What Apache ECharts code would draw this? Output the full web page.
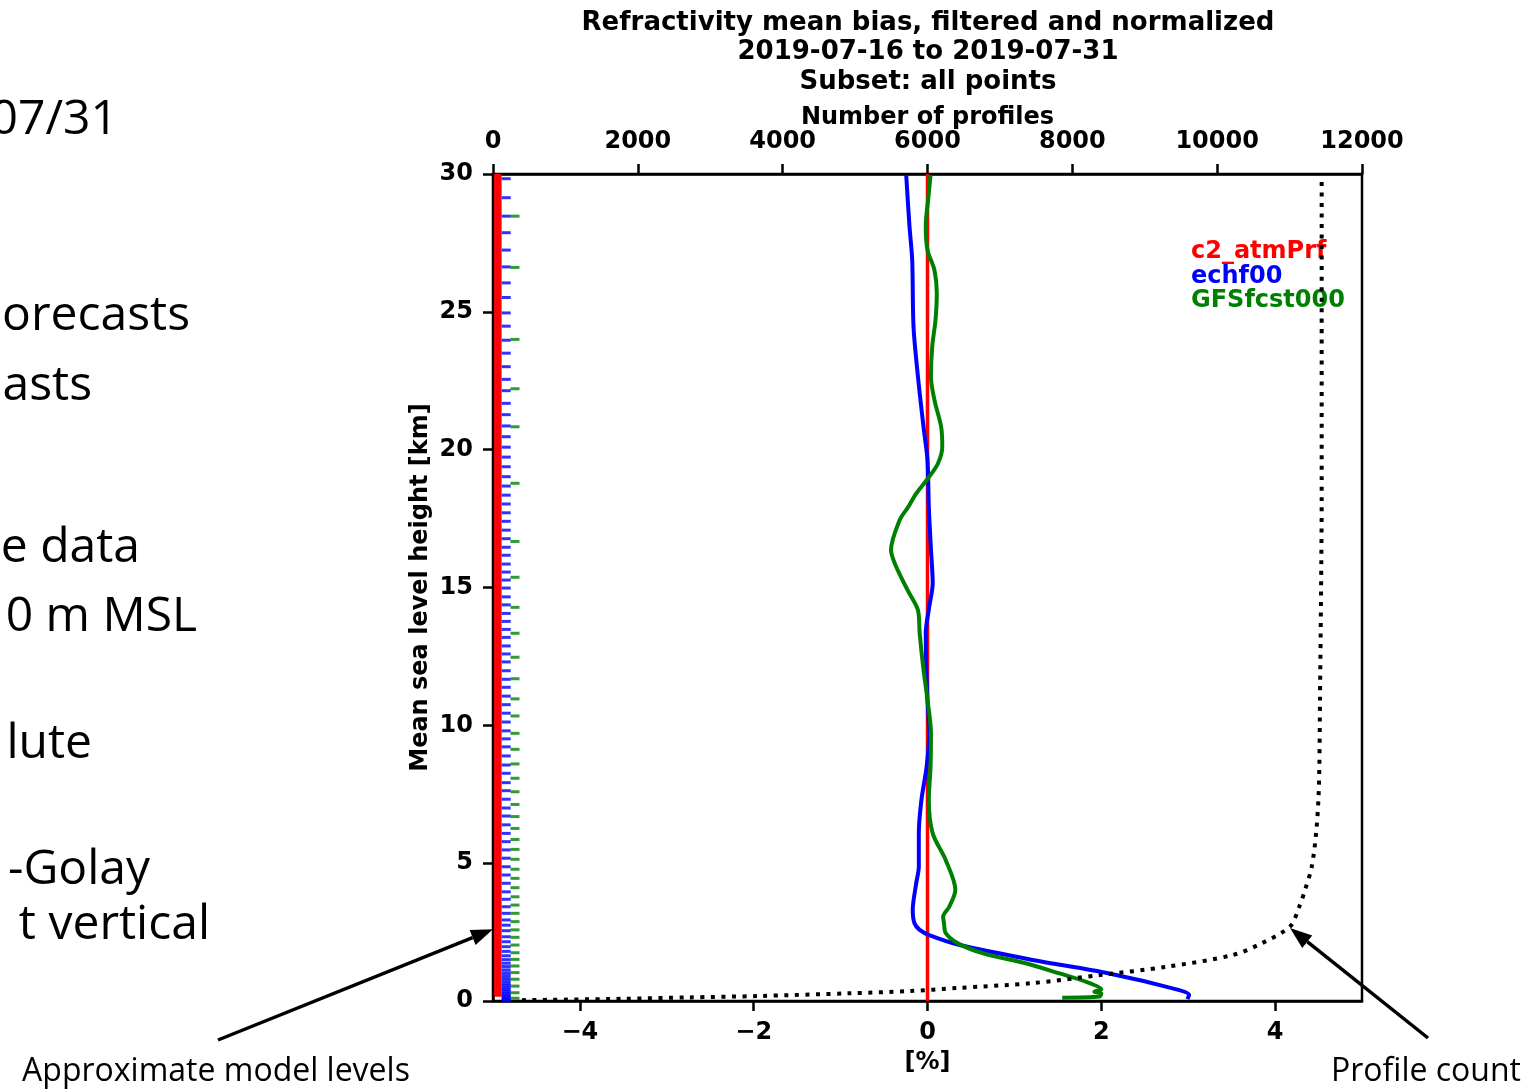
<!DOCTYPE html>
<html lang="en">
<head>
    <meta charset="UTF-8">
    <title>Refractivity mean bias, filtered and normalized</title>
    <script src="https://cdn.jsdelivr.net/npm/echarts@6/dist/echarts.min.js"></script>
    <style>
        html, body { margin: 0; padding: 0; background: #fff; }
        #main { width: 1529px; height: 1089px; }
    </style>
</head>
<body>
<div id="main"></div>
<script type="text/javascript">
    // ---- data ----
    // bias profiles: [bias %, height km]
    var c2AtmPrfBias = [[0, 0], [0, 30]];
    var echf00Bias = [
        [-0.245, 29.96], [-0.207, 28.09], [-0.176, 26.88], [-0.161, 24.46], [-0.11, 22.65],
        [-0.046, 20.83], [0.0, 19.62], [0.015, 17.93], [0.04, 16.36], [0.06, 15.15],
        [0.02, 14.30], [-0.02, 13.34], [-0.015, 12.12], [0.0, 10.92], [0.02, 9.71],
        [-0.01, 8.50], [-0.07, 7.29], [-0.10, 6.08], [-0.10, 4.87], [-0.13, 4.27],
        [-0.17, 3.30], [-0.15, 2.82], [-0.09, 2.58], [0.02, 2.39], [0.37, 2.03],
        [1.21, 1.49], [2.09, 1.00], [2.82, 0.46], [3.01, 0.22], [2.99, 0.07]
    ];
    var gfsBias = [
        [0.035, 29.96], [0.015, 29.3], [-0.02, 28.09], [0.0, 27.24], [0.08, 26.51],
        [0.107, 25.67], [0.092, 24.70], [0.054, 23.73], [0.04, 22.64], [0.08, 21.80],
        [0.157, 20.83], [0.17, 20.10], [0.12, 19.50], [0.02, 19.02], [-0.13, 18.41],
        [-0.22, 17.93], [-0.32, 17.45], [-0.42, 16.36], [-0.36, 15.75], [-0.23, 14.91],
        [-0.11, 14.18], [-0.09, 13.34], [-0.05, 12.12], [0.0, 10.92], [0.04, 9.71],
        [0.035, 8.50], [0.015, 7.29], [0.06, 6.08], [0.21, 5.11], [0.32, 4.03],
        [0.25, 3.42], [0.18, 3.06], [0.19, 2.82], [0.21, 2.46], [0.35, 2.09],
        [0.64, 1.73], [1.13, 1.37], [1.52, 1.00], [1.82, 0.70], [2.0, 0.42],
        [1.92, 0.34], [2.0, 0.28], [1.98, 0.16], [1.55, 0.12]
    ];
    // number of profiles: [count, height km]
    var profileCount = [
        [400, 0.03], [1800, 0.08], [2700, 0.13], [3650, 0.18], [4930, 0.28],
        [5760, 0.36], [6400, 0.47], [7450, 0.65], [8380, 0.94], [9300, 1.24],
        [10220, 1.67], [10620, 2.10], [11006, 2.70], [11130, 3.40], [11214, 4.03],
        [11306, 4.87], [11366, 6.08], [11398, 7.29], [11411, 8.50], [11420, 10.92],
        [11435, 15.0], [11443, 18.17], [11443, 24.0], [11443, 29.9]
    ];
    // approximate model levels (km)
    var c2Levels = [0.15, 30];
    var echfLevels = [
        29.83, 29.14, 28.47, 27.87, 27.24, 26.63, 26.05, 25.52, 24.96, 24.48, 23.97, 23.50,
        23.01, 22.55, 22.14, 21.68, 21.27, 20.86, 20.47, 20.09, 19.73, 19.38, 19.02, 18.68,
        18.35, 18.03, 17.71, 17.40, 17.08, 16.77, 16.46, 16.17, 15.85, 15.56, 15.27, 14.98,
        14.66, 14.37, 14.06, 13.77, 13.48, 13.19, 12.88, 12.59, 12.30, 11.98, 11.67, 11.38,
        11.06, 10.75, 10.44, 10.12, 9.80, 9.51, 9.22, 8.89, 8.56, 8.26, 7.92, 7.63, 7.32,
        7.00, 6.71, 6.39, 6.08, 5.78, 5.48, 5.18, 4.87, 4.57, 4.27, 3.96, 3.69, 3.42, 3.18,
        2.94, 2.75, 2.55, 2.33, 2.15, 1.97, 1.80, 1.64, 1.50, 1.37, 1.25, 1.13, 1.02, 0.92,
        0.82, 0.73, 0.64, 0.56, 0.48, 0.41, 0.34, 0.28, 0.22, 0.17, 0.12, 0.08, 0.04, 0.01
    ];
    var gfsLevels = [
        28.47, 26.61, 24.00, 22.21, 20.83, 18.78, 16.67, 15.37, 14.28, 13.34, 12.47, 11.69,
        10.96, 10.34, 9.71, 9.13, 8.60, 8.08, 7.59, 7.13, 6.69, 6.26, 5.86, 5.50, 5.14,
        4.78, 4.45, 4.11, 3.78, 3.48, 3.18, 2.88, 2.58, 2.31, 2.03, 1.75, 1.51, 1.27, 1.03,
        0.79, 0.54, 0.30, 0.10
    ];
    // where the level markers sit on the bias axis
    var c2LevelX = -4.944, echfLevelX = -4.848, gfsLevelX = -4.747;

    var biasTicks = [-4, -2, 0, 2, 4];
    var titleLines = ['Refractivity mean bias, filtered and normalized', '2019-07-16 to 2019-07-31', 'Subset: all points'];

    // slide text that is cut off at the left edge: [text, right x, middle y]
    var slideText = [
        ['07/31', 118, 120], ['orecasts', 190, 316], ['asts', 92, 386], ['e data', 140, 548],
        ['0 m MSL', 197, 617], ['lute', 92, 744], ['-Golay', 150, 870], ['t vertical', 210, 925]
    ];

    var RED = '#ff0000', BLUE = '#0000ff', GREEN = '#008000';
    var FONT = 'DejaVu Sans';

    var myChart = echarts.init(document.getElementById('main'), null, {renderer: 'canvas'});

    function levelPoints(levels, x) {
        return levels.map(function (h) { return [x, h]; });
    }

    var axisCommon = {
        axisLine: {show: true, onZero: false, lineStyle: {color: '#000', width: 2.5}},
        axisTick: {show: true, length: 10, lineStyle: {color: '#000', width: 2.5}},
        axisLabel: {color: '#000', fontFamily: FONT, fontWeight: 'bold', fontSize: 24, margin: 20},
        splitLine: {show: false},
        nameMoveOverlap: false,
        nameTextStyle: {color: '#000', fontFamily: FONT, fontWeight: 'bold', fontSize: 24}
    };

    var option = {
        animation: false,
        backgroundColor: '#fff',
        title: {
            text: titleLines.join('\n'),
            left: 928,
            top: 8,
            padding: 0,
            textAlign: 'center',
            textStyle: {color: '#000', fontFamily: FONT, fontWeight: 'bold', fontSize: 26, lineHeight: 29.5}
        },
        legend: {
            orient: 'vertical',
            left: 1186,
            top: 240,
            padding: 0,
            itemGap: 0,
            itemWidth: 0,
            itemHeight: 10,
            selectedMode: false,
            textStyle: {fontFamily: FONT, fontWeight: 'bold', fontSize: 24, lineHeight: 24.5, padding: 0},
            data: [
                {name: 'c2_atmPrf', icon: 'none', textStyle: {color: RED}},
                {name: 'echf00', icon: 'none', textStyle: {color: BLUE}},
                {name: 'GFSfcst000', icon: 'none', textStyle: {color: GREEN}}
            ]
        },
        grid: {
            left: 493, top: 174, width: 869, height: 827,
            show: true, borderColor: '#000', borderWidth: 2.5, backgroundColor: 'transparent'
        },
        xAxis: [
            echarts.util.merge({
                type: 'value', position: 'bottom', min: -5, max: 5,
                name: '[%]', nameLocation: 'middle', nameGap: 50,
                axisTick: {customValues: biasTicks},
                axisLabel: {
                    customValues: biasTicks,
                    formatter: function (v) { return v < 0 ? '\u2212' + Math.abs(v) : String(v); }
                }
            }, axisCommon, false),
            echarts.util.merge({
                type: 'value', position: 'top', min: 0, max: 12000, interval: 2000,
                name: 'Number of profiles', nameLocation: 'middle', nameGap: 44,
                axisLabel: {formatter: function (v) { return String(v); }}
            }, axisCommon, false)
        ],
        yAxis: [
            echarts.util.merge({
                type: 'value', min: 0, max: 30, interval: 5,
                name: 'Mean sea level height [km]', nameLocation: 'middle', nameGap: 60
            }, axisCommon, false)
        ],
        series: [
            {
                name: 'c2_atmPrf levels', type: 'line', data: levelPoints(c2Levels, c2LevelX),
                symbol: 'none', silent: true, lineStyle: {color: RED, width: 7.5}, z: 2
            },
            {
                name: 'echf00 levels', type: 'scatter', data: levelPoints(echfLevels, echfLevelX),
                symbol: 'rect', symbolSize: [9, 3], silent: true, itemStyle: {color: BLUE}, z: 2
            },
            {
                name: 'GFSfcst000 levels', type: 'scatter', data: levelPoints(gfsLevels, gfsLevelX),
                symbol: 'rect', symbolSize: [9, 3], silent: true, itemStyle: {color: GREEN}, z: 2
            },
            {
                name: 'c2_atmPrf', type: 'line', data: c2AtmPrfBias, symbol: 'none',
                color: RED, lineStyle: {color: RED, width: 3.5}, z: 3
            },
            {
                name: 'echf00', type: 'line', data: echf00Bias, symbol: 'none', smooth: 0.3,
                color: BLUE, lineStyle: {color: BLUE, width: 4}, z: 4
            },
            {
                name: 'GFSfcst000', type: 'line', data: gfsBias, symbol: 'none', smooth: 0.3,
                color: GREEN, lineStyle: {color: GREEN, width: 4}, z: 4
            },
            {
                name: 'Profile count', type: 'line', xAxisIndex: 1, data: profileCount, symbol: 'none',
                smooth: 0.3,
                color: '#000', lineStyle: {color: '#000', width: 4, type: [4, 6.5]}, z: 5
            }
        ]
    };

    myChart.setOption(option);

    // annotations: slide text and the two arrows
    function arrow(tail, tip) {
        var dx = tip[0] - tail[0], dy = tip[1] - tail[1];
        var len = Math.sqrt(dx * dx + dy * dy);
        var ux = dx / len, uy = dy / len;
        var L = 22, W = 8;
        var bx = tip[0] - ux * L, by = tip[1] - uy * L;
        return [
            {type: 'line', shape: {x1: tail[0], y1: tail[1], x2: bx, y2: by},
                style: {stroke: '#000', lineWidth: 3.5}, z: 100},
            {type: 'polygon', shape: {points: [tip, [bx - uy * W, by + ux * W], [bx + uy * W, by - ux * W]]},
                style: {fill: '#000'}, z: 100}
        ];
    }

    var levelTip = myChart.convertToPixel({seriesIndex: 0}, [-5, 2.6]);
    var countTip = myChart.convertToPixel({seriesIndex: 6}, [11006, 2.65]);

    var graphics = slideText.map(function (t) {
        return {
            type: 'text', x: t[1], y: t[2], z: 100,
            style: {text: t[0], fill: '#000', font: '48px "Open Sans"', textAlign: 'right', textVerticalAlign: 'middle'}
        };
    });
    graphics.push({
        type: 'text', x: 216, y: 1072, z: 100,
        style: {text: 'Approximate model levels', fill: '#000', font: '32px "Open Sans"', textAlign: 'center', textVerticalAlign: 'middle'}
    });
    graphics.push({
        type: 'text', x: 1426, y: 1072, z: 100,
        style: {text: 'Profile count', fill: '#000', font: '32px "Open Sans"', textAlign: 'center', textVerticalAlign: 'middle'}
    });
    graphics = graphics.concat(arrow([218, 1040], levelTip), arrow([1428, 1038], countTip));

    myChart.setOption({graphic: graphics});
</script>
</body>
</html>
